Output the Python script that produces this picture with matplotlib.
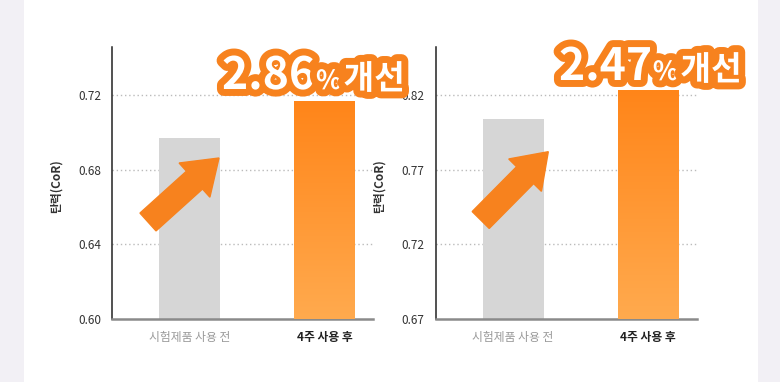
import matplotlib.pyplot as plt
import matplotlib.patches as mpatches
import matplotlib.patheffects as pe
from matplotlib.colors import LinearSegmentedColormap
import numpy as np

plt.rcParams['font.family'] = ['Noto Sans CJK KR', 'DejaVu Sans']

categories = ['시험제품 사용 전', '4주 사용 후']
left_values = [0.697, 0.717]
right_values = [0.8037, 0.8235]
left_ticks = [0.60, 0.64, 0.68, 0.72]
right_ticks = [0.67, 0.72, 0.77, 0.82]
left_ylim = (0.60, 0.7457)
right_ylim = (0.67, 0.852)
badges = [('2.86', '%', '개선'), ('2.47', '%', '개선')]

ORANGE = '#f7821e'
W, H = 780, 382

fig = plt.figure(figsize=(W / 100, H / 100), dpi=100)
fig.patch.set_facecolor('#f2f0f5')
fig.patches.append(mpatches.Rectangle((24 / W, 0), 734 / W, 1, transform=fig.transFigure,
                                      facecolor='white', edgecolor='none', zorder=-5))

grad = np.linspace(0, 1, 256).reshape(-1, 1)
cmap = LinearSegmentedColormap.from_list('og', ['#ffaa4e', '#ff8519'])


def draw_chart(ax, values, ticks, ylim):
    x = np.arange(len(values))
    bars = ax.bar(x, values, width=0.45, color=['#d6d6d6', '#ff8a24'], zorder=2)
    b = bars[1]
    img = ax.imshow(grad, extent=(b.get_x(), b.get_x() + b.get_width(), ylim[0], values[1]),
                    origin='lower', aspect='auto', cmap=cmap, zorder=3)
    img.set_clip_path(b)
    ax.set_xlim(-0.574, 1.36)
    ax.set_ylim(*ylim)
    ax.set_yticks(ticks)
    ax.set_yticklabels([f'{t:.2f}' for t in ticks])
    ax.set_xticks(x)
    ax.set_xticklabels(categories)
    ax.tick_params(axis='both', length=0, labelsize=8.5, pad=8, labelcolor='#333333')
    ax.tick_params(axis='x', pad=9)
    labs = ax.get_xticklabels()
    labs[0].set_color('#9a9a9a')
    labs[1].set_color('#222222')
    labs[1].set_fontweight('bold')
    ax.set_facecolor('none')
    for s in ['top', 'right']:
        ax.spines[s].set_visible(False)
    ax.spines['left'].set_color('#222222')
    ax.spines['left'].set_linewidth(1.1)
    ax.spines['bottom'].set_color('#8a8a8a')
    ax.spines['bottom'].set_linewidth(1.8)
    for t in ticks[1:]:
        ax.axhline(t, color='#bbbbbb', linewidth=1, linestyle=(0, (1, 2)), zorder=1)
    ax.set_ylabel('탄력(CoR)', fontsize=8.5, color='#333333', fontweight='bold')
    ax.yaxis.set_label_coords(-0.19, 0.49)


ax1 = fig.add_axes([112 / W, 63 / H, 261 / W, 272 / H])
ax2 = fig.add_axes([435.7 / W, 63 / H, 261 / W, 272 / H])
draw_chart(ax1, left_values, left_ticks, left_ylim)
draw_chart(ax2, right_values, right_ticks, right_ylim)

# fat arrows (figure pixels)
for (tx, ty, hx, hy) in [(148, 160, 219, 224), (480.7, 162, 548.3, 230.3)]:
    arr = mpatches.FancyArrow(tx / 100, ty / 100, (hx - tx) / 100, (hy - ty) / 100,
                              width=0.24, head_width=0.46, head_length=0.33,
                              length_includes_head=True, color=ORANGE,
                              transform=fig.dpi_scale_trans, zorder=5)
    fig.patches.append(arr)

# badge text
fx = [pe.withStroke(linewidth=10, foreground=ORANGE)]
renderer = fig.canvas.get_renderer()
for (x0, base), (num, pct, word) in zip([(222, 89), (559, 80)], badges):
    x = x0
    for s, size, gap in [(num, 32, 1), (pct, 19, 2), (word, 24, 0)]:
        t = fig.text(x / W, (H - base) / H, s, fontsize=size, fontweight='heavy', color='white',
                     ha='left', va='baseline', path_effects=fx, zorder=10)
        ext = t.get_window_extent(renderer)
        x = ext.x1 + gap

fig.savefig('out.png', dpi=100)
